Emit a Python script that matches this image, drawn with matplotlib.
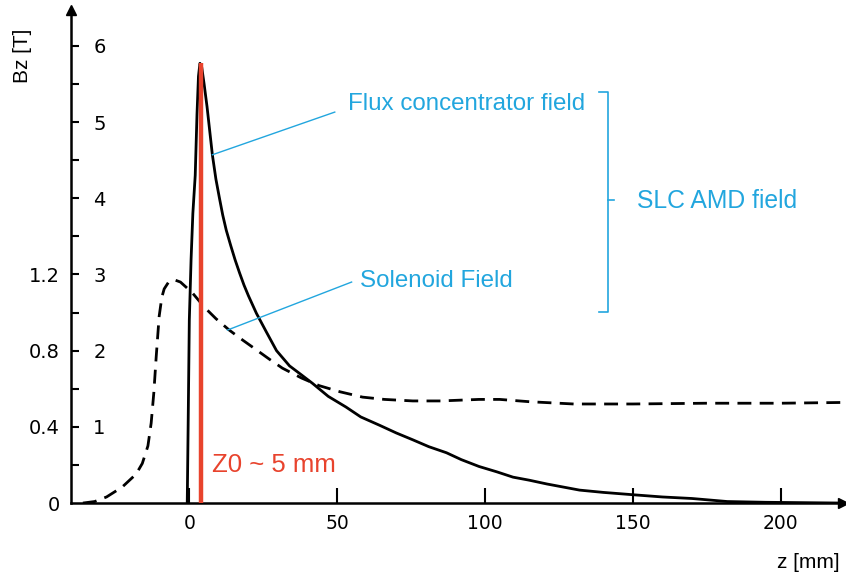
import matplotlib.pyplot as plt
import numpy as np

# flux concentrator field (solid)
z_flux = [-0.7, -0.4, 0.0, 0.6, 1.2, 2.0, 2.6, 3.1, 3.6, 4.2, 5.0, 6.0, 7.0, 7.8, 9.0,
          10.2, 11.3, 12.5, 14.0, 15.5, 17.0, 18.5, 20.0, 22.7, 26.0, 29.5, 33.9, 38.0,
          41.7, 47.0, 53.0, 58.0, 64.4, 70.0, 75.6, 81.0, 87.0, 92.0, 98.0, 104.0,
          109.5, 115.0, 121.0, 132.0, 140.0, 151.5, 160.0, 170.0, 182.0, 195.0, 221.0]
b_flux = [0.0, 1.0, 2.4, 3.2, 3.8, 4.3, 5.1, 5.6, 5.77, 5.72, 5.5, 5.2, 4.85, 4.57, 4.25,
          4.0, 3.78, 3.58, 3.38, 3.19, 3.02, 2.86, 2.72, 2.49, 2.25, 2.0, 1.8, 1.68,
          1.57, 1.40, 1.26, 1.13, 1.02, 0.92, 0.83, 0.74, 0.66, 0.57, 0.48, 0.41,
          0.34, 0.30, 0.25, 0.17, 0.14, 0.105, 0.08, 0.06, 0.02, 0.01, 0.0]

# solenoid field (dashed)
z_sol = [-36.0, -32.0, -28.0, -22.7, -18.0, -15.9, -14.0, -12.9, -12.0, -11.2, -10.2,
         -9.3, -8.5, -7.0, -5.1, -3.0, 1.0, 5.1, 9.0, 13.5, 18.0, 22.7, 27.0, 31.5, 38.0,
         44.0, 51.0, 58.6, 66.0, 75.6, 85.0, 98.0, 105.0, 115.0, 130.0, 150.0,
         175.0, 200.0, 221.0]
b_sol = [0.0, 0.02, 0.08, 0.21, 0.38, 0.52, 0.75, 1.05, 1.45, 1.92, 2.45,
         2.70, 2.81, 2.90, 2.93, 2.90, 2.76, 2.57, 2.42, 2.27, 2.14, 2.01, 1.89, 1.77, 1.64,
         1.54, 1.46, 1.39, 1.36, 1.34, 1.34, 1.36, 1.36, 1.33, 1.30, 1.30,
         1.31, 1.31, 1.32]

z0 = 3.8
b_peak = 5.77
x_ticks = [0, 50, 100, 150, 200]
y_ticks = [1, 2, 3, 4, 5, 6]
y_minor = [0.5, 1.5, 2.5, 3.5, 4.5, 5.5]
left_ticks = [0, 0.4, 0.8, 1.2]
left_labels = ['0', '0.4', '0.8', '1.2']

cyan = '#22a6de'
red = '#e8432d'
ann_font = ['Liberation Sans', 'DejaVu Sans']

fig = plt.figure(figsize=(8.46, 5.87), dpi=100)
ax = fig.add_axes([0.084, 0.143, 0.912, 0.84])

ax.plot(z_flux, b_flux, color='black', lw=2.0, solid_capstyle='round')
ax.plot(z_sol, b_sol, color='black', lw=2.0, dashes=(5, 3))
ax.vlines(z0, 0, b_peak, color=red, lw=3.2, zorder=5)

ax.set_xlim(-40, 221)
ax.set_ylim(0, 6.47)

for s in ['top', 'right']:
    ax.spines[s].set_visible(False)
for s in ['left', 'bottom']:
    ax.spines[s].set_linewidth(1.8)
# axis arrows
ax.plot(1, 0, '>k', ms=7, transform=ax.transAxes, clip_on=False)
ax.plot(0, 1, '^k', ms=7, transform=ax.transAxes, clip_on=False)

ax.set_xticks(x_ticks)
ax.set_xticklabels([str(v) for v in x_ticks])
ax.tick_params(axis='x', direction='in', length=11, width=1.5, labelsize=13.5, pad=8)

ax.set_yticks(y_ticks)
ax.set_yticklabels([str(v) for v in y_ticks])
ax.set_yticks(y_minor, minor=True)
ax.tick_params(axis='y', which='both', direction='in', length=6, width=1.5,
               labelsize=14, pad=-16)
for lbl in ax.get_yticklabels():
    lbl.set_ha('left')

sec = ax.secondary_yaxis('left', functions=(lambda b: b * 0.4, lambda b: b / 0.4))
sec.set_yticks(left_ticks)
sec.set_yticklabels(left_labels)
sec.tick_params(length=0, labelsize=14, pad=8)
sec.spines['left'].set_visible(False)

fig.text(0.027, 0.905, 'Bz [T]', rotation=90, ha='center', va='center',
         fontsize=15, family=ann_font)
fig.text(0.993, 0.025, 'z [mm]', ha='right', va='bottom', fontsize=15, family=ann_font)

# annotations
ax.text(53.6, 5.24, 'Flux concentrator field', color=cyan, fontsize=17.4,
        family=ann_font, va='center')
ax.plot([49.2, 7.8], [5.13, 4.57], color=cyan, lw=1.0)
ax.text(57.6, 2.91, 'Solenoid Field', color=cyan, fontsize=17.4,
        family=ann_font, va='center')
ax.plot([54.9, 12.9], [2.90, 2.27], color=cyan, lw=1.0)

# bracket
ax.plot([138.6, 141.7, 141.7, 138.6], [5.39, 5.39, 2.51, 2.51], color=cyan, lw=1.2)
ax.plot([141.7, 143.7], [3.98, 3.98], color=cyan, lw=1.2)
ax.text(151.5, 3.96, 'SLC AMD field', color=cyan, fontsize=17.8,
        family=ann_font, va='center')

ax.text(7.8, 0.5, 'Z0 ~ 5 mm', color=red, fontsize=18.5, family=ann_font, va='center')

fig.savefig('out.png', dpi=100)
